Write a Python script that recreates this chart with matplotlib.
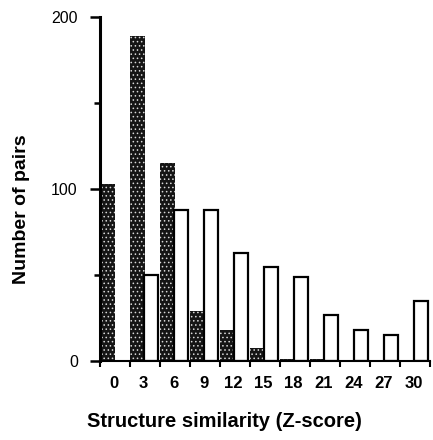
import matplotlib
matplotlib.use("Agg")
import matplotlib.pyplot as plt
import numpy as np

# Data
categories = [0, 3, 6, 9, 12, 15, 18, 21, 24, 27, 30]
dark_values = [103, 189, 115, 29, 18, 7.5, 1, 1, 0, 0, 0]
white_values = [0, 50, 88, 88, 63, 54.5, 48.7, 27, 18, 15, 35]
y_ticks = [0, 100, 200]
y_minor = [50, 150]

plt.rcParams['font.family'] = ['Liberation Sans', 'DejaVu Sans']
plt.rcParams['hatch.linewidth'] = 0.6

fig = plt.figure(figsize=(4.33, 4.40), dpi=100)
ax = fig.add_axes([100/433, 79/440, 330/433, 344/440])

idx = np.arange(len(categories))
# stippled dark bars
ax.bar(idx, dark_values, width=0.5, align='edge', color='#151515', linewidth=0)
ax.bar(idx, dark_values, width=0.5, align='edge', facecolor='none',
       edgecolor='#d8d8d8', hatch='....', linewidth=0)
# white bars
wb = [v if v > 0 else np.nan for v in white_values]
ax.bar(idx + 0.48, wb, width=0.45, align='edge', facecolor='white',
       edgecolor='black', linewidth=1.6)

ax.set_xlim(0, len(categories))
ax.set_ylim(0, 200)

for s in ['top', 'right']:
    ax.spines[s].set_visible(False)
ax.spines['left'].set_linewidth(2.2)
ax.spines['bottom'].set_linewidth(1.5)
ax.spines['left'].set_bounds(0, 200)

ax.set_yticks(y_ticks)
ax.set_yticks(y_minor, minor=True)
ax.tick_params(axis='y', which='major', direction='out', length=7, width=1.8,
               labelsize=11.5, pad=9)
ax.tick_params(axis='y', which='minor', direction='out', length=4.5, width=1.8)
ax.set_xticks(np.arange(len(categories) + 1))
ax.set_xticklabels([])
ax.set_xticks(idx + 0.45, minor=True)
ax.set_xticklabels([str(c) for c in categories], minor=True,
                   fontsize=12, fontweight='bold')
ax.tick_params(axis='x', which='major', direction='out', length=4, width=1.5)
ax.tick_params(axis='x', which='minor', length=0, pad=11)

fig.text(224/433, 1 - 421/440, 'Structure similarity (Z-score)',
         ha='center', va='center', fontsize=14.5, fontweight='bold')
fig.text(22/433, 1 - 209/440, 'Number of pairs', ha='center', va='center',
         rotation=90, fontsize=14, fontweight='bold')

fig.savefig('out.png', dpi=100)
